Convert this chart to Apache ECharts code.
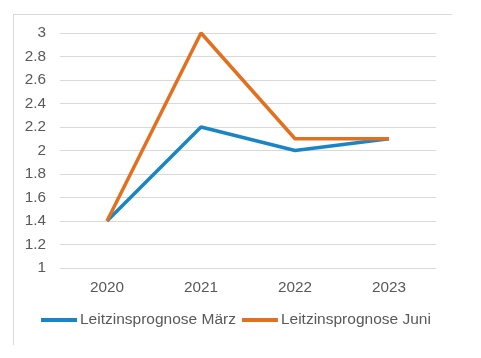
<!DOCTYPE html>
<html><head><meta charset="utf-8">
<script src="https://cdn.jsdelivr.net/npm/echarts@6/dist/echarts.min.js"></script>
<style>html,body{margin:0;padding:0;background:#fff}#c{width:481px;height:358px}</style>
</head><body><div id="c"></div>
<script>
var categories = ['2020', '2021', '2022', '2023'];
var seriesNames = ['Leitzinsprognose März', 'Leitzinsprognose Juni'];
var maerz = [1.4, 2.2, 2.0, 2.1];
var juni = [1.4, 3.0, 2.1, 2.1];
var colors = ['#1A85C6', '#E3701E'];
var chart = echarts.init(document.getElementById('c'));
var font = 'Liberation Sans, Arial, sans-serif';
chart.setOption({
  animation: false,
  color: colors,
  graphic: [
    {type: 'line', shape: {x1: 13, y1: 14.5, x2: 452, y2: 14.5}, style: {stroke: '#D9D9D9', lineWidth: 1}},
    {type: 'line', shape: {x1: 13.5, y1: 14, x2: 13.5, y2: 345}, style: {stroke: '#D9D9D9', lineWidth: 1}}
  ],
  grid: {left: 60, right: 45, top: 33, bottom: 90, containLabel: false},
  legend: {
    data: seriesNames, bottom: 25, left: 36, itemWidth: 36, itemHeight: 4, itemGap: 6,
    icon: 'rect',
    textStyle: {color: '#595959', fontSize: 15.5, fontFamily: font, padding: [0, 0, 0, -2]}
  },
  xAxis: {
    type: 'category', data: categories, boundaryGap: true,
    axisLine: {show: false}, axisTick: {show: false},
    axisLabel: {color: '#595959', fontSize: 15.3, fontFamily: font, margin: 12}
  },
  yAxis: {
    type: 'value', min: 1, max: 3, interval: 0.2,
    axisLine: {show: false}, axisTick: {show: false},
    splitLine: {lineStyle: {color: '#D9D9D9', width: 1}},
    axisLabel: {color: '#595959', fontSize: 15.3, fontFamily: font, margin: 14,
      formatter: function(v){ return String(Math.round(v*10)/10); }}
  },
  series: [
    {name: seriesNames[0], type: 'line', data: maerz, symbol: 'none', lineStyle: {width: 3.5, color: colors[0]}},
    {name: seriesNames[1], type: 'line', data: juni, symbol: 'none', lineStyle: {width: 3.5, color: colors[1]}}
  ]
});
</script></body></html>
